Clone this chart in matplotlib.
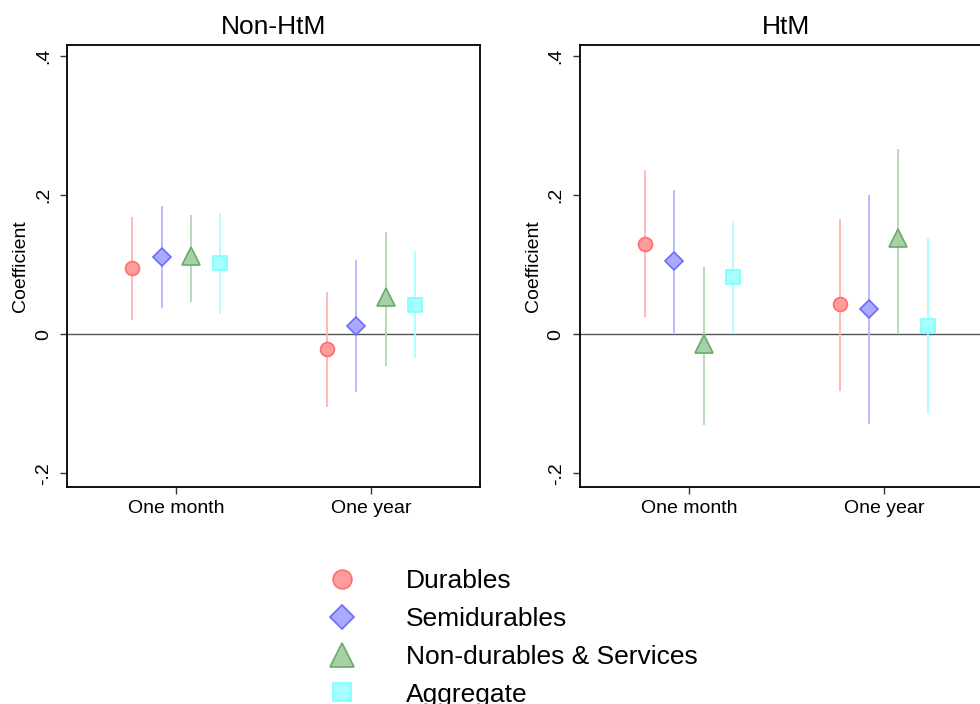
import numpy as np
import matplotlib
matplotlib.use("Agg")
import matplotlib.pyplot as plt
from matplotlib.lines import Line2D

plt.rcParams['font.family'] = ['Liberation Sans', 'DejaVu Sans']

horizons = ["One month", "One year"]
series = ["Durables", "Semidurables", "Non-durables & Services", "Aggregate"]

# point estimates, rows = series, cols = horizon
nonhtm_coef = [[0.095, -0.022],
               [0.111, 0.012],
               [0.112, 0.054],
               [0.102, 0.042]]
nonhtm_lo = [[0.020, -0.105],
             [0.038, -0.083],
             [0.046, -0.046],
             [0.029, -0.035]]
nonhtm_hi = [[0.169, 0.061],
             [0.184, 0.107],
             [0.171, 0.147],
             [0.174, 0.119]]

htm_coef = [[0.130, 0.043],
            [0.105, 0.036],
            [-0.014, 0.138],
            [0.082, 0.012]]
htm_lo = [[0.025, -0.082],
          [0.001, -0.130],
          [-0.131, 0.002],
          [0.000, -0.115]]
htm_hi = [[0.236, 0.166],
          [0.208, 0.200],
          [0.097, 0.267],
          [0.163, 0.139]]

markers = ['o', 'D', '^', 's']
msizes = [10, 9, 13, 10]
fills = ['#ff9c9c', '#a9a9ff', '#a6d0a6', '#a6ffff']
edges = ['#ff6e6e', '#6b6bff', '#6aab6a', '#7affff']
ci_cols = ['#ffb4b4', '#b4b4ff', '#b4d6b4', '#aaffff']
offsets = [-0.225, -0.075, 0.075, 0.225]


def draw_panel(ax, coef, lo, hi, title):
    x = np.arange(1, len(horizons) + 1)
    ax.axhline(0, color='#555555', lw=1.0, zorder=1)
    for i in range(len(series)):
        xs = x + offsets[i]
        ax.vlines(xs, lo[i], hi[i], color=ci_cols[i], lw=1.3, zorder=2)
        ax.plot(xs, coef[i], ls='none', marker=markers[i], ms=msizes[i],
                mfc=fills[i], mec=edges[i], mew=1.2, zorder=3)
    ax.set_xlim(0.44, 2.56)
    ax.set_ylim(-0.22, 0.416)
    ax.set_xticks(x)
    ax.set_xticklabels(horizons, fontsize=14)
    ax.set_yticks([-0.2, 0, 0.2, 0.4])
    ax.set_yticklabels(["-.2", "0", ".2", ".4"], fontsize=14, rotation=90,
                       va='center')
    ax.tick_params(axis='both', direction='out', length=5, width=1,
                   color='#333333')
    ax.tick_params(axis='x', pad=4)
    ax.tick_params(axis='y', pad=6)
    ax.set_ylabel("Coefficient", fontsize=14, labelpad=4)
    ax.set_title(title, fontsize=19, pad=8)
    for s in ax.spines.values():
        s.set_linewidth(1.3)
        s.set_color('black')


fig = plt.figure(figsize=(9.8, 7.04), dpi=100)
ax1 = fig.add_axes([0.0684, 0.3082, 0.4214, 0.6278])
ax2 = fig.add_axes([0.5918, 0.3082, 0.4214, 0.6278])

draw_panel(ax1, nonhtm_coef, nonhtm_lo, nonhtm_hi, "Non-HtM")
draw_panel(ax2, htm_coef, htm_lo, htm_hi, "HtM")

handles = [Line2D([], [], ls='none', marker=markers[i], ms=msizes[i],
                  mfc=fills[i], mec=edges[i], mew=1.2)
           for i in range(len(series))]
fig.legend(handles, series, loc='upper left', bbox_to_anchor=(0.315, 0.21),
           frameon=False, fontsize=19, markerscale=1.35, handlelength=1.5,
           handletextpad=1.7, labelspacing=0.52, borderpad=0)

fig.savefig("out.png", dpi=100)
